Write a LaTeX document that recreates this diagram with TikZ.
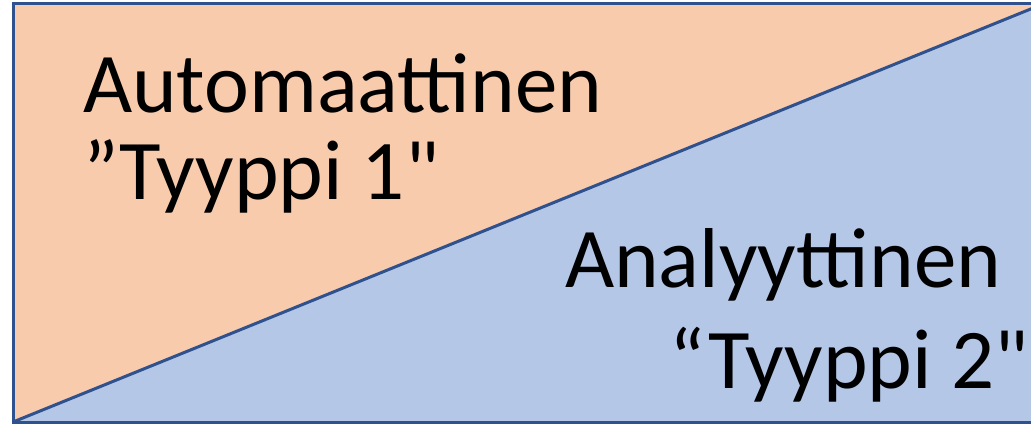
\documentclass[tikz,border=0pt]{standalone}
\usepackage{fontspec}
\setmainfont{Carlito}[Ligatures=TeXOff]
\definecolor{peach}{HTML}{F8CBAD}
\definecolor{lightblue}{HTML}{B4C7E7}
\definecolor{edgeblue}{HTML}{2F528F}
\tikzset{
  bigtext/.style={anchor=base west, inner sep=0pt, outer sep=0pt, text=black, font=\fontsize{85}{100}\selectfont},
  edge/.style={draw=edgeblue, line width=3pt}
}
\begin{document}
\begin{tikzpicture}[x=1pt,y=-1pt]
\useasboundingbox (0,0) rectangle (1031,425);
\clip (0,0) rectangle (1031,425);
\coordinate (tl) at (13,4);
\coordinate (bl) at (13,422);
\coordinate (tr) at (1043,4);
\coordinate (br) at (1043,422);
\fill[peach] (tl) -- (tr) -- (bl) -- cycle;
\fill[lightblue] (bl) -- (tr) -- (br) -- cycle;
\draw[edge, line join=miter] (tr) -- (tl) -- (bl) -- (br);
\draw[edge] (bl) -- (tr);
\node[bigtext] (a1) at (83,113) {Automaattinen};
\node[bigtext] (a2) at (83,200) {”Tyyppi 1"};
\node[bigtext] (b1) at (565,287) {Analyyttinen};
\node[bigtext] (b2) at (669,388) {“Tyyppi 2"};
\end{tikzpicture}
\end{document}
